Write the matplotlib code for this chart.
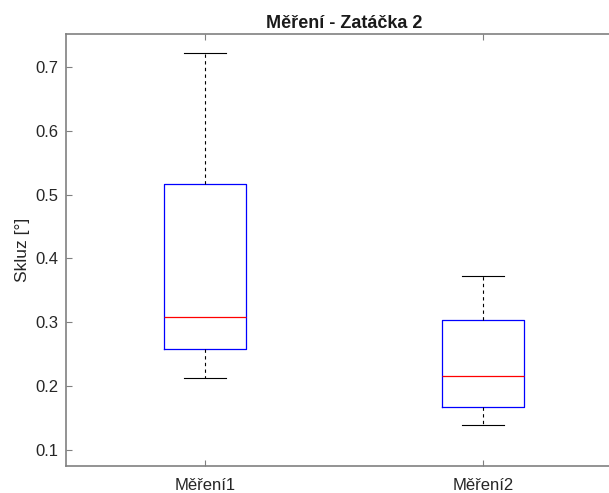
import matplotlib.pyplot as plt
import numpy as np

plt.rcParams['font.family'] = ['Liberation Sans', 'DejaVu Sans']

labels = ['Měření1', 'Měření2']
medians = [0.308, 0.216]
q1 = [0.258, 0.1675]
q3 = [0.5167, 0.3036]
whislo = [0.2128, 0.1392]
whishi = [0.7219, 0.3726]

stats = []
for i in range(len(labels)):
    stats.append({'label': labels[i], 'med': medians[i], 'q1': q1[i], 'q3': q3[i],
                  'whislo': whislo[i], 'whishi': whishi[i], 'fliers': []})

fig = plt.figure(figsize=(6.09, 4.93), dpi=100)
ax = fig.add_axes([66/609, 1-466/493, 556/609, 432/493])

ax.bxp(stats, positions=[1, 2], widths=0.295, showfliers=False,
       boxprops=dict(color='blue', lw=0.9),
       medianprops=dict(color='red', lw=0.9),
       whiskerprops=dict(color='black', lw=0.8, linestyle=(0, (3, 3))),
       capprops=dict(color='black', lw=0.8),
       capwidths=0.15)

ax.set_xlim(0.5, 2.5)
ax.set_ylim(0.0747, 0.7517)
ax.set_yticks(np.arange(0.1, 0.75, 0.1))
ax.set_yticklabels(['0.1', '0.2', '0.3', '0.4', '0.5', '0.6', '0.7'])
ax.set_xticks([1, 2])
ax.set_xticklabels(labels)

for s in ax.spines.values():
    s.set_color('#808080')
    s.set_linewidth(1.2)
ax.tick_params(direction='in', length=4, color='#808080', labelsize=12,
               labelcolor='#262626', top=True, right=True, width=0.8)
ax.tick_params(axis='y', pad=5.5)
ax.tick_params(axis='x', pad=9)

ax.set_ylabel('Skluz [°]', fontsize=12.5, color='#262626', labelpad=4)
ax.set_title('Měření - Zatáčka 2', fontsize=13, fontweight='bold', color='#1a1a1a', pad=4)

fig.savefig('out.png', dpi=100)
